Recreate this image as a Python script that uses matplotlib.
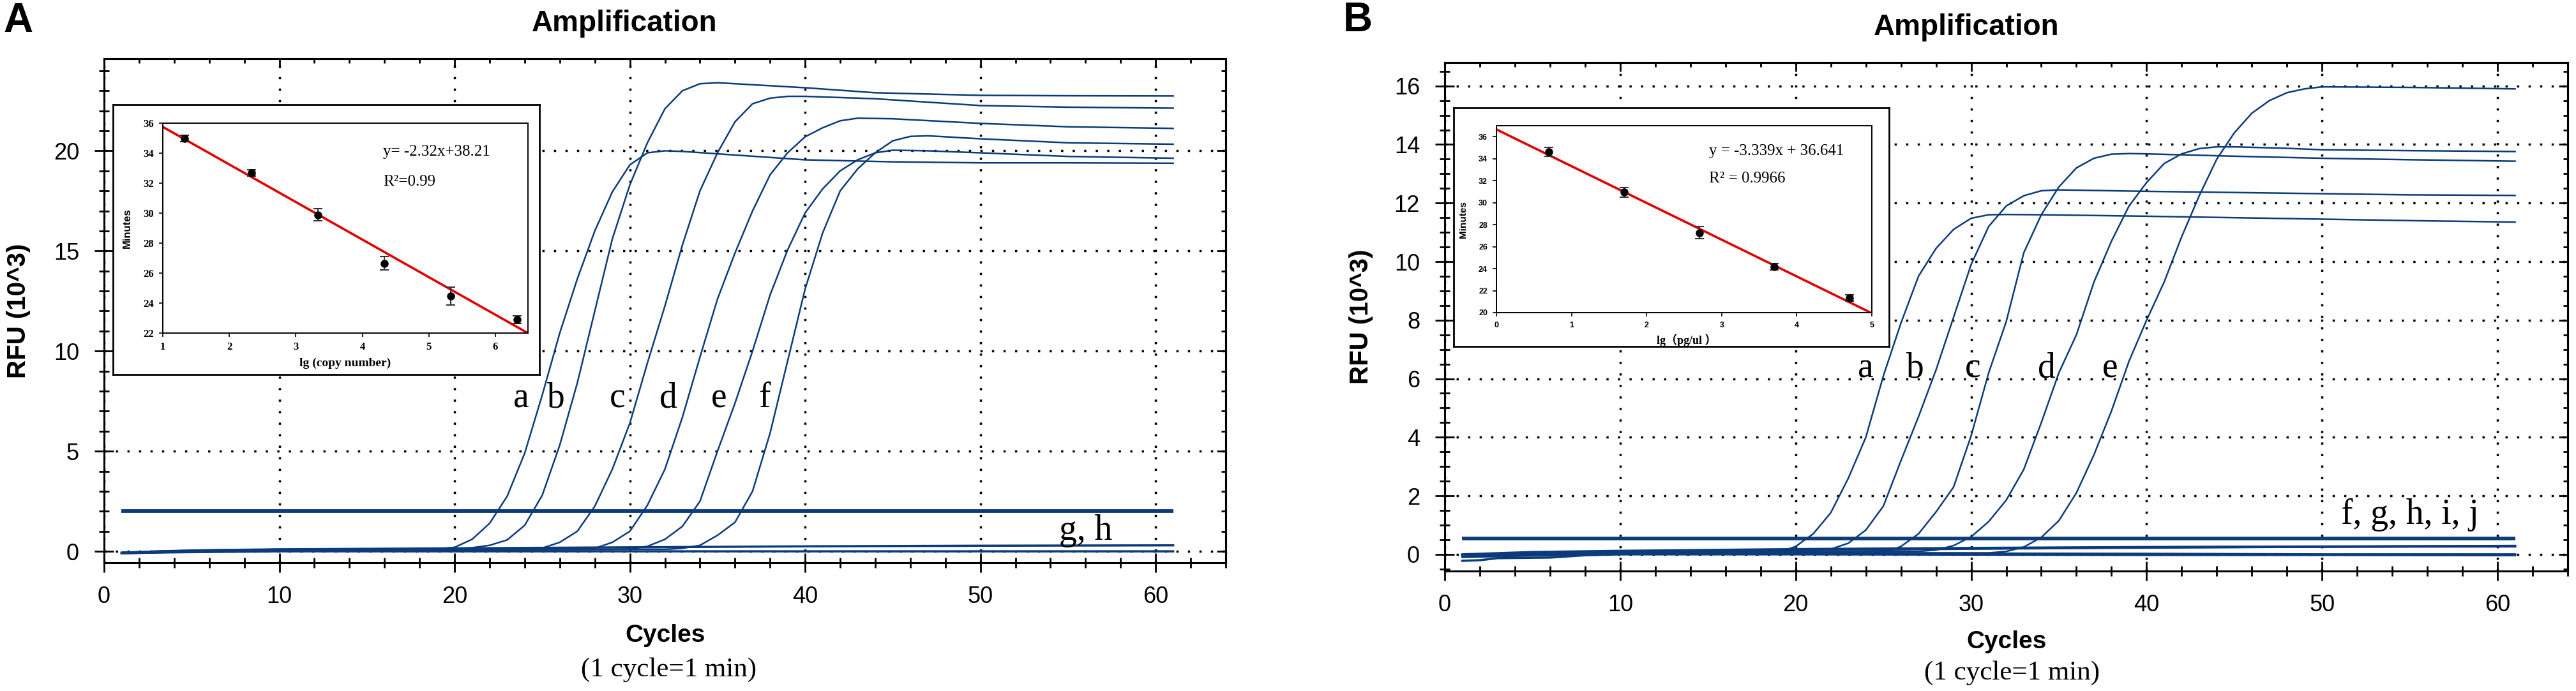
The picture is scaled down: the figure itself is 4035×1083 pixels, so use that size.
import matplotlib.pyplot as plt
from matplotlib.ticker import MultipleLocator, NullFormatter

plt.rcParams['font.family'] = 'sans-serif'
plt.rcParams['font.sans-serif'] = ['Liberation Sans', 'DejaVu Sans']

BLUE = '#0b3b7a'
W, H = 4035, 1083

# ---------------- panel A: amplification curves (RFU x 10^3) ----------------
a_cyc_A = [1, 5, 10, 15, 19, 20, 21, 22, 23, 24, 25, 26, 27, 28, 29, 30, 31, 32, 33, 35, 40, 45, 50, 55, 61]
a_rfu_A = [-0.05, 0.05, 0.1, 0.12, 0.12, 0.2, 0.6, 1.4, 2.75, 4.9, 7.8, 10.9, 13.6, 16.0, 17.95, 19.3, 19.9,
           20.0, 19.97, 19.85, 19.55, 19.45, 19.4, 19.4, 19.38]
b_cyc_A = [1, 5, 10, 15, 20, 21, 22, 23, 24, 25, 26, 27, 28, 29, 30, 31, 32, 33, 34, 35, 37, 40, 44, 50, 55, 61]
b_rfu_A = [-0.05, 0.04, 0.1, 0.11, 0.12, 0.18, 0.3, 0.57, 1.3, 2.8, 5.3, 8.4, 12.0, 15.6, 18.3, 20.4, 22.1,
           23.0, 23.35, 23.4, 23.3, 23.15, 22.9, 22.77, 22.75, 22.74]
c_cyc_A = [1, 5, 10, 15, 20, 24, 25, 26, 27, 28, 29, 30, 31, 32, 33, 34, 35, 36, 37, 38, 39, 40, 44, 50, 55, 61]
c_rfu_A = [-0.06, 0.03, 0.08, 0.1, 0.11, 0.12, 0.16, 0.45, 1.0, 2.25, 4.1, 6.4, 9.4, 12.25, 15.3, 18.0, 19.9,
           21.45, 22.35, 22.63, 22.72, 22.72, 22.6, 22.26, 22.18, 22.13]
d_cyc_A = [1, 5, 10, 15, 20, 25, 27, 28, 29, 30, 31, 32, 33, 34, 35, 36, 37, 38, 39, 40, 41, 42, 43, 45, 50, 55, 61]
d_rfu_A = [-0.08, 0.0, 0.05, 0.08, 0.1, 0.1, 0.1, 0.15, 0.45, 1.0, 2.3, 4.1, 6.7, 9.7, 12.6, 14.9, 17.0, 18.8,
           19.9, 20.7, 21.15, 21.5, 21.63, 21.6, 21.37, 21.2, 21.12]
e_cyc_A = [1, 5, 10, 15, 20, 25, 29, 30, 31, 32, 33, 34, 35, 36, 37, 38, 39, 40, 41, 42, 43, 44, 45, 47, 50, 55, 61]
e_rfu_A = [-0.1, -0.02, 0.03, 0.06, 0.08, 0.1, 0.1, 0.12, 0.25, 0.6, 1.25, 2.5, 5.0, 7.4, 10.0, 12.8, 15.05,
           16.9, 18.1, 19.0, 19.55, 19.9, 20.03, 20.0, 19.9, 19.72, 19.63]
f_cyc_A = [1, 5, 10, 15, 20, 25, 30, 32, 33, 34, 35, 36, 37, 38, 39, 40, 41, 42, 43, 44, 45, 46, 47, 50, 55, 61]
f_rfu_A = [-0.1, -0.03, 0.02, 0.05, 0.07, 0.08, 0.1, 0.1, 0.15, 0.3, 0.8, 1.45, 3.0, 5.9, 9.5, 13.1, 15.9,
           18.0, 19.1, 19.9, 20.5, 20.72, 20.75, 20.6, 20.4, 20.33]
neg_cyc_A = [1, 3, 6, 10, 20, 30, 40, 50, 61]
g_rfu_A = [-0.08, 0.0, 0.06, 0.1, 0.15, 0.2, 0.25, 0.28, 0.3]
h_rfu_A = [-0.1, -0.06, -0.03, 0.0, 0.0, 0.0, 0.0, 0.0, 0.0]
threshold_A = 2.0

# curve letters (cycle, RFU baseline)
lab_A = ['a', 'b', 'c', 'd', 'e', 'f']
lab_x_A = [23.8, 25.8, 29.3, 32.2, 35.1, 37.7]
lab_y_A = 7.2
neg_lab_A = 'g, h'

# inset A: standard curve
lg_A = [1.33, 2.33, 3.33, 4.33, 5.33, 6.33]
min_A = [34.97, 32.67, 29.88, 26.65, 24.47, 22.91]
err_A = [0.22, 0.21, 0.40, 0.45, 0.58, 0.26]
fit_x_A = [1.0, 6.5]
fit_y_A = [35.75, 21.97]

# ---------------- panel B ----------------
a_cyc_B = [1, 5, 10, 15, 18, 19, 20, 21, 22, 23, 24, 25, 26, 27, 28, 29, 30, 31, 32, 34, 40, 45, 50, 55, 61]
a_rfu_B = [-0.05, 0.02, 0.06, 0.06, 0.05, 0.06, 0.27, 0.7, 1.42, 2.6, 4.0, 6.1, 7.9, 9.5, 10.45, 11.1, 11.48,
           11.6, 11.61, 11.6, 11.55, 11.5, 11.45, 11.4, 11.35]
b_cyc_B = [1, 5, 10, 15, 20, 21, 22, 23, 24, 25, 26, 27, 28, 29, 30, 31, 32, 33, 34, 35, 36, 40, 45, 50, 55, 61]
b_rfu_B = [-0.02, 0.05, 0.08, 0.1, 0.1, 0.12, 0.18, 0.38, 0.83, 1.65, 3.2, 4.7, 6.3, 8.1, 9.9, 11.2, 11.9,
           12.25, 12.42, 12.45, 12.44, 12.4, 12.36, 12.32, 12.28, 12.26]
c_cyc_B = [1, 5, 10, 15, 20, 24, 25, 26, 27, 28, 29, 30, 31, 32, 33, 34, 35, 36, 37, 38, 39, 40, 45, 50, 55, 61]
c_rfu_B = [-0.05, 0.0, 0.03, 0.05, 0.05, 0.05, 0.05, 0.27, 0.7, 1.45, 2.3, 4.05, 6.2, 7.95, 10.3, 11.6, 12.55,
           13.2, 13.53, 13.67, 13.69, 13.68, 13.6, 13.53, 13.48, 13.43]
d_cyc_B = [1, 5, 10, 15, 20, 25, 27, 28, 29, 30, 31, 32, 33, 34, 35, 36, 37, 38, 39, 40, 41, 42, 43, 44, 45,
           48, 50, 55, 61]
d_rfu_B = [-0.08, -0.02, 0.02, 0.05, 0.08, 0.1, 0.1, 0.15, 0.3, 0.6, 1.12, 1.85, 2.9, 4.5, 6.2, 7.5, 9.3, 10.7,
           11.9, 12.7, 13.35, 13.68, 13.86, 13.92, 13.92, 13.87, 13.82, 13.79, 13.76]
e_cyc_B = [1, 5, 10, 15, 20, 25, 30, 31, 32, 33, 34, 35, 36, 37, 38, 39, 40, 41, 42, 43, 44, 45, 46, 47, 48,
           49, 50, 55, 61]
e_rfu_B = [-0.1, -0.05, 0.0, 0.02, 0.03, 0.05, 0.05, 0.05, 0.1, 0.25, 0.58, 1.15, 2.1, 3.4, 4.9, 6.6, 8.0, 9.3,
           10.85, 12.25, 13.5, 14.4, 15.07, 15.5, 15.77, 15.9, 15.97, 15.95, 15.9]
f_cyc_B = [1, 2, 3, 6, 8, 10, 20, 30, 40, 50, 61]
f_rfu_B = [-0.22, -0.2, -0.13, -0.11, -0.03, 0.0, 0.0, -0.01, -0.02, -0.02, -0.03]
neg_cyc_B = [1, 5, 10, 20, 30, 40, 50, 61]
g_rfu_B = [-0.04, 0.02, 0.05, 0.05, 0.03, 0.02, 0.0, 0.0]
h_rfu_B = [0.0, 0.08, 0.12, 0.18, 0.22, 0.25, 0.27, 0.28]
i_rfu_B = [-0.02, 0.06, 0.1, 0.16, 0.2, 0.24, 0.26, 0.27]
j_rfu_B = [-0.05, 0.04, 0.08, 0.14, 0.19, 0.23, 0.26, 0.29]
threshold_B = 0.55

lab_B = ['a', 'b', 'c', 'd', 'e']
lab_x_B = [24.0, 26.8, 30.1, 34.3, 37.9]
lab_y_B = 6.05
neg_lab_B = 'f, g, h, i, j'

lg_B = [0.7, 1.7, 2.7, 3.7, 4.7]
min_B = [34.62, 30.95, 27.28, 24.17, 21.32]
err_B = [0.40, 0.43, 0.53, 0.28, 0.30]
fit_x_B = [0.0, 5.0]
fit_y_B = [36.66, 19.95]

cycle_span = [1, 61]


def box(l, t, r, b):
    return [l / W, 1 - b / H, (r - l) / W, (b - t) / H]


def ftext(x, y, s, **kw):
    fig.text(x / W, 1 - y / H, s, ha='center', va='center', **kw)


def main_axes(rect, ylim, ymaj, ymin):
    ax = fig.add_axes(rect)
    ax.set_xlim(0, 64)
    ax.set_ylim(*ylim)
    ax.xaxis.set_major_locator(MultipleLocator(10))
    ax.xaxis.set_minor_locator(MultipleLocator(2))
    ax.yaxis.set_major_locator(MultipleLocator(ymaj))
    ax.yaxis.set_minor_locator(MultipleLocator(ymin))
    ax.tick_params(which='major', direction='inout', length=22, width=2, labelsize=26)
    ax.tick_params(which='minor', direction='inout', length=11, width=2)
    ax.tick_params(axis='y', pad=17)
    ax.tick_params(axis='x', pad=15)
    for s in ax.spines.values():
        s.set_linewidth(2.2)
    ax.grid(True, which='major', color='black', linestyle=(0, (1, 4.2)), linewidth=2.5)

    top = ax.secondary_xaxis('top')
    top.xaxis.set_major_locator(MultipleLocator(10))
    top.xaxis.set_minor_locator(MultipleLocator(2))
    top.xaxis.set_major_formatter(NullFormatter())
    top.tick_params(which='major', direction='in', length=10, width=2)
    top.tick_params(which='minor', direction='in', length=5, width=2)
    top.spines['top'].set_linewidth(2.2)

    right = ax.secondary_yaxis('right')
    right.yaxis.set_major_locator(MultipleLocator(ymaj))
    right.yaxis.set_minor_locator(MultipleLocator(ymin))
    right.yaxis.set_major_formatter(NullFormatter())
    right.tick_params(which='major', direction='in', length=10, width=2)
    right.tick_params(which='minor', direction='in', length=5, width=2)
    right.spines['right'].set_linewidth(2.2)
    return ax


def inset(frame_rect, rect, xlim, ylim, xticks, yticks, tick_font, tick_size):
    frame = fig.add_axes(frame_rect)
    frame.set_xticks([])
    frame.set_yticks([])
    for s in frame.spines.values():
        s.set_linewidth(2)
    ins = fig.add_axes(rect)
    ins.set_xlim(*xlim)
    ins.set_ylim(*ylim)
    ins.set_xticks(xticks)
    ins.set_yticks(yticks)
    ins.tick_params(direction='out', length=4, width=1.2, pad=6)
    for lab in ins.get_xticklabels() + ins.get_yticklabels():
        lab.set_family(tick_font)
        lab.set_fontweight('bold')
        lab.set_fontsize(tick_size)
    for s in ins.spines.values():
        s.set_linewidth(1.4)
    return ins


fig = plt.figure(figsize=(W / 100, H / 100), dpi=100)

# ---------------- panel A ----------------
axA = main_axes(box(163, 92, 1920, 882), (-0.57, 24.6), 5, 1)
for cx, cy in [(a_cyc_A, a_rfu_A), (b_cyc_A, b_rfu_A), (c_cyc_A, c_rfu_A),
               (d_cyc_A, d_rfu_A), (e_cyc_A, e_rfu_A), (f_cyc_A, f_rfu_A)]:
    axA.plot(cx, cy, color=BLUE, lw=1.8)
axA.plot(neg_cyc_A, g_rfu_A, color=BLUE, lw=2.5)
axA.plot(neg_cyc_A, h_rfu_A, color=BLUE, lw=2.5)
axA.plot(cycle_span, [threshold_A, threshold_A], color=BLUE, lw=4.2, solid_capstyle='butt')
for s, x in zip(lab_A, lab_x_A):
    axA.text(x, lab_y_A, s, family='Liberation Serif', fontsize=40, ha='center', va='baseline')
axA.text(56.0, 0.58, neg_lab_A, family='Liberation Serif', fontsize=40, ha='center', va='baseline')

insA = inset(box(177, 164, 845, 587), box(255, 193, 827, 522), (1, 6.49), (22, 36),
             range(1, 7), range(22, 37, 2), 'Liberation Serif', 12)
insA.errorbar(lg_A, min_A, yerr=err_A, fmt='o', color='black', ms=8, ecolor='#333333',
              elinewidth=1.5, capsize=5, capthick=1.5, zorder=3)
insA.plot(fit_x_A, fit_y_A, color='#e00000', lw=2.6, zorder=2)
insA.text(4.31, 34.1, 'y= -2.32x+38.21', family='Liberation Serif', fontsize=18, va='center')
insA.text(4.31, 32.07, 'R²=0.99', family='Liberation Serif', fontsize=18, va='center')
ftext(541, 569, 'lg (copy number)', family='Liberation Serif', fontweight='bold', fontsize=14)
ftext(199, 358, 'Minutes', fontweight='bold', fontsize=12, rotation=90)

ftext(28, 33, 'A', fontweight='bold', fontsize=46)
ftext(978, 37, 'Amplification', fontweight='bold', fontsize=33)
ftext(29, 487, 'RFU (10^3)', fontweight='bold', fontsize=29, rotation=90)
ftext(1042, 996, 'Cycles', fontweight='bold', fontsize=28)
ftext(1047, 1050, '(1 cycle=1 min)', family='Liberation Serif', fontsize=31)

# ---------------- panel B ----------------
axB = main_axes(box(2263, 98, 4022, 895), (-0.57, 16.8), 2, 0.5)
for cx, cy in [(a_cyc_B, a_rfu_B), (b_cyc_B, b_rfu_B), (c_cyc_B, c_rfu_B),
               (d_cyc_B, d_rfu_B), (e_cyc_B, e_rfu_B)]:
    axB.plot(cx, cy, color=BLUE, lw=1.8)
axB.plot(f_cyc_B, f_rfu_B, color=BLUE, lw=2.5)
for ry in [g_rfu_B, h_rfu_B, i_rfu_B, j_rfu_B]:
    axB.plot(neg_cyc_B, ry, color=BLUE, lw=2.5)
axB.plot(cycle_span, [threshold_B, threshold_B], color=BLUE, lw=4.0, solid_capstyle='butt')
for s, x in zip(lab_B, lab_x_B):
    axB.text(x, lab_y_B, s, family='Liberation Serif', fontsize=40, ha='center', va='baseline')
axB.text(55.0, 1.04, neg_lab_B, family='Liberation Serif', fontsize=40, ha='center', va='baseline')

insB = inset(box(2277, 169, 2959, 543), box(2344, 197, 2932, 490), (0, 5), (20, 37),
             range(0, 6), range(20, 37, 2), 'Liberation Sans', 9)
insB.errorbar(lg_B, min_B, yerr=err_B, fmt='o', color='black', ms=8, ecolor='#333333',
              elinewidth=1.5, capsize=5, capthick=1.5, zorder=3)
insB.plot(fit_x_B, fit_y_B, color='#e00000', lw=2.6, zorder=2)
insB.text(2.83, 34.7, 'y = -3.339x + 36.641', family='Liberation Serif', fontsize=18, va='center')
insB.text(2.83, 32.17, 'R² = 0.9966', family='Liberation Serif', fontsize=18, va='center')
ftext(2642, 533, 'lg（pg/ul ）', family=['Liberation Serif', 'Noto Sans CJK SC'],
      fontweight='bold', fontsize=13)
ftext(2292, 344, 'Minutes', fontweight='bold', fontsize=11, rotation=90)

ftext(2127, 32, 'B', fontweight='bold', fontsize=46)
ftext(3080, 43, 'Amplification', fontweight='bold', fontsize=33)
ftext(2132, 496, 'RFU (10^3)', fontweight='bold', fontsize=29, rotation=90)
ftext(3143, 1006, 'Cycles', fontweight='bold', fontsize=28)
ftext(3152, 1055, '(1 cycle=1 min)', family='Liberation Serif', fontsize=31)

fig.savefig('out.png', dpi=100)
